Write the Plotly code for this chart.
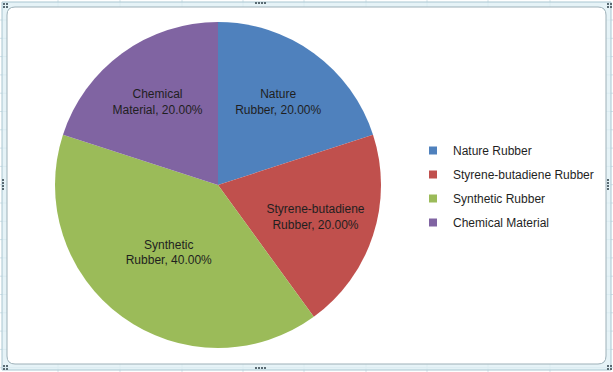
import plotly.graph_objects as go

labels = ["Nature Rubber", "Styrene-butadiene Rubber", "Synthetic Rubber", "Chemical Material"]
slice_text = ["Nature<br>Rubber", "Styrene-butadiene<br>Rubber", "Synthetic<br>Rubber", "Chemical<br>Material"]
values = [20, 20, 40, 20]
colors = ["#4F81BD", "#C0504D", "#9BBB59", "#8064A2"]

W, H = 613, 372
FONT = "Liberation Sans, Arial, sans-serif"

fig = go.Figure()
fig.add_trace(go.Pie(
    labels=labels,
    values=values,
    text=slice_text,
    texttemplate="%{text}, %{percent:.2%}",
    textposition="inside",
    insidetextorientation="horizontal",
    textfont=dict(family=FONT, size=12, color="#1F1F1F"),
    marker=dict(colors=colors, line=dict(width=0)),
    sort=False,
    direction="clockwise",
    rotation=0,
    domain=dict(x=[55 / W, 381 / W], y=[1 - 348 / H, 1 - 22 / H]),
    showlegend=False,
))

# legend entries (one group per category so rows can be spaced like the original)
for name, col in zip(labels, colors):
    fig.add_trace(go.Scatter(
        x=[None], y=[None], mode="markers", name=name, legendgroup=name,
        marker=dict(symbol="square", size=8, color=col),
        showlegend=True, hoverinfo="skip",
    ))

def px(x):
    return x / W
def py(y):
    return 1 - y / H

shapes = []
grid = "#D3E3EA"
# spreadsheet gridlines behind the chart frame
for gx in [58, 120, 182, 243, 304, 366, 427, 488, 550]:
    shapes.append(dict(type="line", xref="paper", yref="paper", x0=px(gx), x1=px(gx), y0=0, y1=1,
                       line=dict(color=grid, width=1), layer="below"))
gy = 20
while gy < H:
    shapes.append(dict(type="line", xref="paper", yref="paper", x0=0, x1=1, y0=py(gy), y1=py(gy),
                       line=dict(color=grid, width=1), layer="below"))
    gy += 18.3
# outer selection band
shapes.append(dict(type="rect", xref="paper", yref="paper", x0=px(2), x1=px(611), y0=py(370), y1=py(2),
                   line=dict(color="#A9C6D1", width=1), fillcolor="rgba(222,239,244,0.75)", layer="below"))
# inner white chart area with rounded corners
x0, x1, y0, y1, r = 7, 606, 7, 364, 8
path = (f"M {px(x0 + r)},{py(y0)} L {px(x1 - r)},{py(y0)} Q {px(x1)},{py(y0)} {px(x1)},{py(y0 + r)} "
        f"L {px(x1)},{py(y1 - r)} Q {px(x1)},{py(y1)} {px(x1 - r)},{py(y1)} "
        f"L {px(x0 + r)},{py(y1)} Q {px(x0)},{py(y1)} {px(x0)},{py(y1 - r)} "
        f"L {px(x0)},{py(y0 + r)} Q {px(x0)},{py(y0)} {px(x0 + r)},{py(y0)} Z")
shapes.append(dict(type="path", xref="paper", yref="paper", path=path,
                   line=dict(color="#9DB0B8", width=1), fillcolor="white", layer="below"))
# grip dots
def grip(cx, cy, n, horiz):
    for i in range(n):
        dx = (i * 3) if horiz else 0
        dy = 0 if horiz else (i * 3)
        shapes.append(dict(type="rect", xref="paper", yref="paper",
                           x0=px(cx + dx), x1=px(cx + dx + 2), y0=py(cy + dy + 2), y1=py(cy + dy),
                           line=dict(width=0), fillcolor="#5A6B73", layer="above"))
grip(255, 2, 4, True)
grip(255, 367, 4, True)
grip(2, 179, 4, False)
grip(607, 179, 4, False)
for cx, cy in [(3, 3), (607, 3), (3, 365), (607, 365)]:
    grip(cx, cy, 2, True)
    grip(cx, cy + 3, 2, True)

fig.update_layout(
    width=W, height=H,
    margin=dict(l=0, r=0, t=0, b=0),
    paper_bgcolor="white",
    plot_bgcolor="rgba(0,0,0,0)",
    shapes=shapes,
    xaxis=dict(visible=False),
    yaxis=dict(visible=False),
    font=dict(family=FONT, size=12, color="#1F1F1F"),
    legend=dict(x=px(413), y=py(136), xanchor="left", yanchor="top",
                font=dict(family=FONT, size=12, color="#1F1F1F"),
                bgcolor="rgba(0,0,0,0)", itemwidth=30, tracegroupgap=5,
                itemclick=False, itemdoubleclick=False),
)

fig.write_html("out.html", config={"displayModeBar": False},
               post_script="document.body.style.margin='0';")
